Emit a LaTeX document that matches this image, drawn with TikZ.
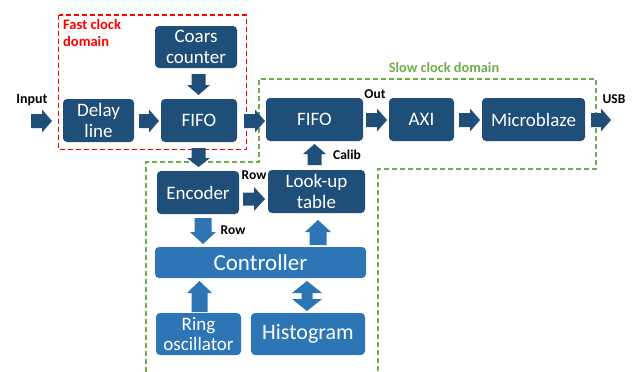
\documentclass[tikz,border=0pt]{standalone}
\usepackage{fontspec}
\setmainfont{Carlito}
\definecolor{dkblue}{HTML}{1F4E79}
\definecolor{ltblue}{HTML}{2E75B6}
\definecolor{dgreen}{HTML}{70AD47}
% #1 x, #2 y, #3 rotation, #4 length, #5 shaft width, #6 head width, #7 head length, #8 colour
\newcommand{\blockarr}[8]{%
  \begin{scope}[shift={(#1,#2)}, rotate=#3]
    \fill[#8] (-#4/2,-#5/2) -- (#4/2-#7,-#5/2) -- (#4/2-#7,-#6/2) -- (#4/2,0)
      -- (#4/2-#7,#6/2) -- (#4/2-#7,#5/2) -- (-#4/2,#5/2) -- cycle;
  \end{scope}}
% #1 x, #2 y, #3 rotation, #4 length, #5 shaft width, #6 head width, #7 head length, #8 colour
\newcommand{\dblarr}[8]{%
  \begin{scope}[shift={(#1,#2)}, rotate=#3]
    \fill[#8] (-#4/2,0) -- (-#4/2+#7,-#6/2) -- (-#4/2+#7,-#5/2) -- (#4/2-#7,-#5/2)
      -- (#4/2-#7,-#6/2) -- (#4/2,0) -- (#4/2-#7,#6/2) -- (#4/2-#7,#5/2)
      -- (-#4/2+#7,#5/2) -- (-#4/2+#7,#6/2) -- cycle;
  \end{scope}}
\begin{document}
\begin{tikzpicture}[x=1pt,y=-1pt,
  box/.style={rectangle, rounded corners=4pt, fill=dkblue, text=white, align=center,
    inner sep=0pt, font=\fontsize{19}{20.5}\selectfont},
  lbox/.style={box, fill=ltblue},
  lbl/.style={font=\fontsize{13.5}{15}\selectfont\bfseries, inner sep=0pt},
  dom/.style={dash pattern=on 5pt off 3pt, line width=1.3pt}]
\useasboundingbox (0,0) rectangle (633,372);
% clock domains
\draw[dom, red] (58.7,15) rectangle (246.7,149.3);
\draw[dom, dgreen] (146,372) -- (146,162) -- (259,162) -- (259,79) -- (596,79)
  -- (596,169) -- (378,169) -- (378,372);
\node[lbl, text=red, align=left, anchor=north west, font=\fontsize{14.5}{17}\selectfont\bfseries]
  (fastlbl) at (63,19) {Fast clock\\domain};
\node[lbl, text=dgreen, font=\fontsize{14.3}{16}\selectfont\bfseries] (slowlbl) at (444,68) {Slow clock domain};
% boxes
\node[box, minimum width=82pt, minimum height=42pt] (coars) at (196,47) {Coars\\counter};
\node[box, minimum width=71pt, minimum height=43pt] (delay) at (98.5,120.5) {Delay\\line};
\node[box, minimum width=76pt, minimum height=43pt] (fifo1) at (199,120.5) {FIFO};
\node[box, minimum width=97pt, minimum height=43pt] (fifo2) at (314.5,119.5) {FIFO};
\node[box, minimum width=65pt, minimum height=43pt] (axi) at (421.5,119.5) {AXI};
\node[box, minimum width=103pt, minimum height=43pt] (micro) at (533.5,119.5) {Microblaze};
\node[box, minimum width=82pt, minimum height=43pt] (enc) at (198,192.5) {Encoder};
\node[box, minimum width=97pt, minimum height=43pt] (lut) at (316.5,191.5) {Look-up\\table};
\node[lbox, minimum width=211pt, minimum height=31pt, font=\fontsize{23}{26}\selectfont] (ctrl) at (260.5,262.5) {Controller};
\node[lbox, minimum width=85pt, minimum height=42pt] (ring) at (198.5,334) {Ring\\oscillator};
\node[lbox, minimum width=114pt, minimum height=42pt, font=\fontsize{22}{24}\selectfont] (hist) at (308,334) {Histogram};
% block arrows (connectors)
\blockarr{41.5}{121}{0}{21}{14}{23}{10}{dkblue}    % input -> delay
\blockarr{149}{121}{0}{20}{14}{23}{10}{dkblue}     % delay -> fifo1
\blockarr{254.5}{121}{0}{21}{14}{23}{10}{dkblue}   % fifo1 -> fifo2
\blockarr{376.5}{120}{0}{21}{14}{23}{10}{dkblue}   % fifo2 -> axi
\blockarr{469.5}{120}{0}{21}{14}{23}{10}{dkblue}   % axi -> microblaze
\blockarr{601}{120}{0}{20}{14}{23}{10}{dkblue}     % microblaze -> usb
\blockarr{198.5}{84.5}{-90}{21}{14}{23}{10}{dkblue} % coars -> fifo1
\blockarr{198.5}{157.5}{-90}{19}{14}{23}{9}{dkblue} % fifo1 -> encoder
\blockarr{314.5}{154.5}{90}{21}{14}{23}{10}{dkblue} % lut -> fifo2
\blockarr{254}{199}{0}{22}{13}{24}{11}{dkblue}      % encoder -> lut
\blockarr{203}{231}{-90}{26}{17}{26}{12}{ltblue}    % encoder -> controller
\blockarr{318}{232.5}{90}{25}{17}{26}{12}{ltblue}   % controller -> lut
\blockarr{199.5}{296.5}{90}{31}{16}{25}{12}{ltblue} % ring -> controller
\dblarr{307}{296}{90}{30}{11}{30}{12}{ltblue}       % controller <-> histogram
% labels
\node[lbl, font=\fontsize{14}{16}\selectfont\bfseries] (tin) at (32,100) {Input};
\node[lbl] (tout) at (375,94) {Out};
\node[lbl] (tusb) at (614,99) {USB};
\node[lbl] (tcal) at (347,155) {Calib};
\node[lbl] (trow1) at (254,175) {Row};
\node[lbl] (trow2) at (233,230) {Row};
\end{tikzpicture}
\end{document}
